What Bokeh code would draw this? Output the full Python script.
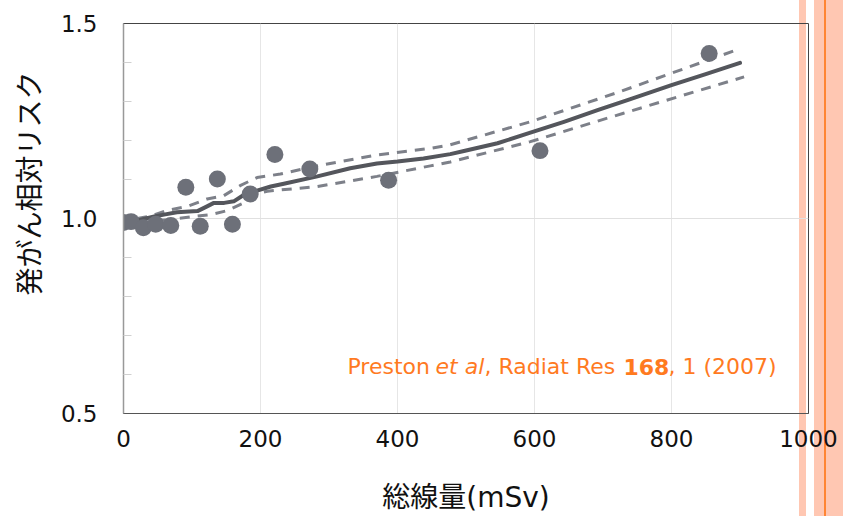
from bokeh.plotting import figure
from bokeh.models import (FixedTicker, Range1d, Label, Title,
                          CustomJSTickFormatter)
from bokeh.embed import file_html
from bokeh.resources import INLINE

# ---- data ----
dose = [0, 11, 29, 47, 69, 91, 112, 137, 159, 185, 221, 272, 387, 608, 855]
risk = [0.990, 0.992, 0.976, 0.985, 0.982, 1.080, 0.980, 1.101, 0.985, 1.063,
        1.164, 1.127, 1.098, 1.174, 1.423]

fit_x = [0, 25, 45, 59, 78, 108, 122, 132, 147, 161, 176, 190, 215, 234, 283,
         331, 370, 400, 438, 477, 497, 546, 594, 643, 692, 740, 800, 850, 900]
fit_y = [0.990, 0.997, 1.005, 1.010, 1.016, 1.019, 1.031, 1.040, 1.040, 1.044,
         1.061, 1.069, 1.082, 1.089, 1.108, 1.129, 1.141, 1.146, 1.154, 1.165,
         1.173, 1.193, 1.220, 1.248, 1.278, 1.306, 1.342, 1.370, 1.399]

upper_x = [20, 40, 64, 93, 122, 146, 171, 195, 229, 283, 370, 448, 477, 594,
           721, 893]
upper_y = [1.000, 1.006, 1.021, 1.031, 1.050, 1.058, 1.085, 1.105, 1.114,
           1.135, 1.163, 1.180, 1.189, 1.248, 1.323, 1.431]

lower_x = [30, 64, 88, 127, 151, 176, 190, 210, 283, 370, 448, 477, 594, 730,
           906]
lower_y = [0.990, 0.997, 1.002, 1.010, 1.020, 1.040, 1.062, 1.070, 1.082,
           1.108, 1.135, 1.145, 1.197, 1.270, 1.363]

x_ticks = [0, 200, 400, 600, 800, 1000]
y_ticks = [0.5, 1.0, 1.5]
y_minor = [0.6, 0.7, 0.8, 0.9, 1.1, 1.2, 1.3, 1.4]

x_title = "総線量(mSv)"
y_title = "発がん相対リスク"
cite_parts = ["Preston", "et al", ", Radiat Res ", "168", ", 1 (2007)"]
cite_styles = ["normal", "italic", "normal", "bold", "normal"]
cite_x = [327.0, 455.5, 527.0, 729.9, 795.6]   # start of each segment (data x)
cite_y = 0.62

NUM_FONT = "DejaVu Sans"
JP_FONT = "DejaVu Sans, Noto Sans CJK JP"
ORANGE = "#FF7A1F"
SALMON = "#FFC7B2"

p = figure(width=843, height=516, output_backend="svg", toolbar_location=None,
           x_range=Range1d(0, 1000), y_range=Range1d(0.5, 1.5),
           min_border_left=123, min_border_right=35, min_border_top=23,
           min_border_bottom=101)
# transparent canvas; decorative slide stripes come from the element's CSS
p.background_fill_color = None
p.border_fill_color = None
p.styles = {
    "background-image": (
        "linear-gradient(to right, white 0px, white 799px, "
        f"{SALMON} 799px, {SALMON} 806px, white 806px, white 814px, "
        f"{SALMON} 814px, {SALMON} 824px, #FF8533 824px, #FF8533 826px, "
        f"{SALMON} 826px, {SALMON} 843px)"
    ),
    "background-color": "white",
}
p.outline_line_color = "#444444"
p.outline_line_width = 1

# axes
p.xaxis.ticker = FixedTicker(ticks=x_ticks)
p.yaxis.ticker = FixedTicker(ticks=y_ticks, minor_ticks=y_minor)
p.yaxis.formatter = CustomJSTickFormatter(code="return tick.toFixed(1);")

for ax in (p.xaxis, p.yaxis):
    ax.major_tick_in = 0
    ax.major_tick_out = 0
    ax.major_label_text_font = NUM_FONT
    ax.major_label_text_font_size = "23px"
    ax.major_label_text_color = "#111111"

p.xaxis.minor_tick_line_color = None
p.xaxis.axis_line_color = "#555555"
p.xaxis.major_label_standoff = 16
p.xaxis.axis_label = x_title
p.xaxis.axis_label_standoff = 31
p.xaxis.axis_label_text_font = JP_FONT
p.xaxis.axis_label_text_font_size = "28px"
p.xaxis.axis_label_text_font_style = "normal"
p.xaxis.axis_label_text_color = "#111111"

p.yaxis.axis_line_color = "#999999"
p.yaxis.axis_line_width = 1.5
p.yaxis.minor_tick_in = 8
p.yaxis.minor_tick_out = 0
p.yaxis.minor_tick_line_color = "#D0D0D0"
p.yaxis.major_label_standoff = 26

# y title sits above the frame centre in the reference: a side title with offset
p.add_layout(Title(text=y_title, align="left", offset=118, standoff=21,
                   text_line_height=0.8,
                   text_font=JP_FONT, text_font_size="28px",
                   text_font_style="normal", text_color="#111111"), "left")

p.xgrid.ticker = FixedTicker(ticks=x_ticks)
p.xgrid.grid_line_color = "#E6E6E6"
p.ygrid.ticker = FixedTicker(ticks=[1.0])
p.ygrid.grid_line_color = "#E0E0E0"

# lines
p.line(upper_x, upper_y, line_color="#7D8089", line_width=3,
       line_dash="10 8")
p.line(lower_x, lower_y, line_color="#7D8089", line_width=3,
       line_dash="10 8")
p.line(fit_x, fit_y, line_color="#54565C", line_width=4, line_join="round",
       line_cap="round")
p.scatter(dose, risk, size=17, fill_color="#6D7079", line_color=None)

# citation
for txt, sty, xx in zip(cite_parts, cite_styles, cite_x):
    p.add_layout(Label(x=xx, y=cite_y, text=txt, text_font=NUM_FONT,
                       text_font_size="22px", text_font_style=sty,
                       text_color=ORANGE, text_baseline="middle",
                       text_align="left"))

open("out.html", "w").write(file_html(p, INLINE))
